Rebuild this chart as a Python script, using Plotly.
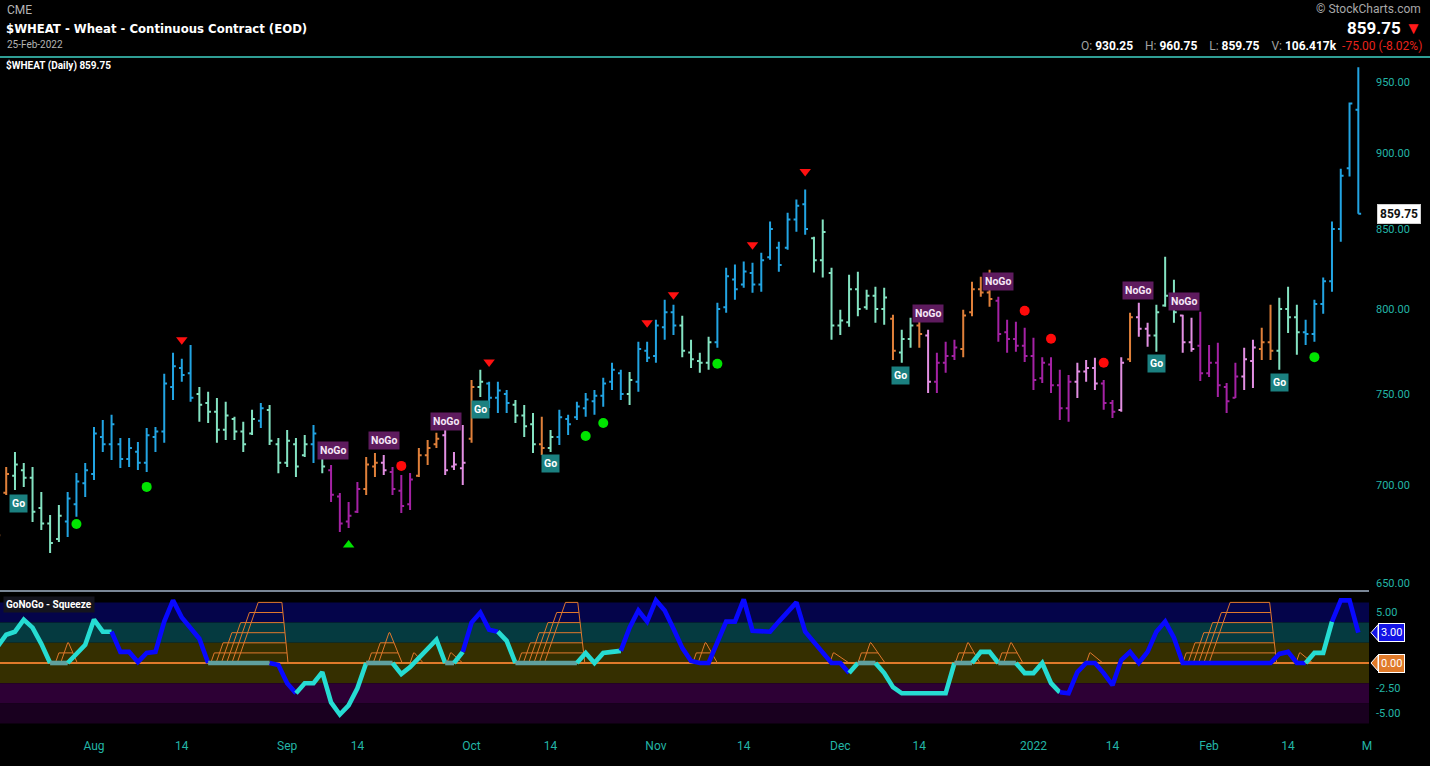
import numpy as np
import plotly.graph_objects as go

# ---------------- data ----------------
# trading-day index: 0 = Mon 2-Aug-2021 ... 144 = Fri 25-Feb-2022
bar_idx = list(range(-11, 145))

opens = [690, 696, 705, 708, 704, 688, 680, 672, 681, 690, 701,
         706, 726, 722, 722, 714, 718, 712, 726, 729, 754,
         765, 762, 750, 745, 740, 730, 736, 729, 728, 735,
         741, 722, 712, 722, 716, 722, 718, 708, 694, 681,
         686, 698, 710, 712, 707, 697, 690, 705, 716, 722,
         727, 710, 709, 725, 754, 756, 748, 750, 744, 738,
         733, 722, 720, 726, 736, 737, 742, 746, 749, 757,
         762, 750, 757, 775, 772, 789, 798, 790, 774, 769,
         768, 780, 801, 818, 815, 822, 815, 832, 838, 838,
         856, 866, 844, 830, 822, 790, 792, 812, 801, 808,
         800, 794, 774, 782, 790, 784, 757, 768, 772, 776,
         798, 812, 810, 805, 786, 782, 778, 772, 759, 767,
         755, 742, 757, 763, 765, 756, 745, 741, 770, 795,
         788, 784, 802, 808, 796, 780, 778, 762, 768, 754,
         748, 760, 769, 776, 780, 775, 800, 795, 786, 785,
         803, 817, 850, 890, 930.25]

highs = [695.9, 709.7, 717.8, 711.9, 709.7, 696.4, 684.4, 689.6, 696.4, 706.5, 711.9,
         731.6, 735.5, 738.3, 725.5, 725.5, 723.3, 731.0, 731.6, 761.6, 773.8,
         770.3, 778.5, 754.1, 751.3, 747.8, 745.6, 737.2, 734.4, 741.1, 745.0,
         743.9, 725.5, 729.9, 725.5, 727.1, 732.7, 720.5, 710.8, 695.9, 691.2,
         701.7, 715.1, 717.3, 716.2, 709.7, 705.4, 706.5, 720.0, 724.4, 728.3,
         731.6, 717.8, 732.7, 758.1, 763.9, 757.0, 757.0, 752.4, 746.7, 743.9,
         739.4, 737.2, 729.9, 741.1, 738.3, 745.6, 750.7, 752.4, 759.3, 768.0,
         763.9, 762.7, 780.3, 780.3, 793.4, 805.5, 802.5, 795.8, 781.5, 773.8,
         783.3, 803.7, 825.4, 827.3, 829.2, 828.5, 834.8, 854.7, 841.8, 860.5,
         869.1, 875.7, 845.0, 856.0, 825.4, 799.5, 821.0, 822.9, 811.7, 813.5,
         812.9, 796.4, 787.4, 794.6, 792.2, 787.4, 773.8, 780.3, 781.5, 799.5,
         816.7, 819.8, 824.1, 807.4, 793.4, 792.2, 788.6, 782.7, 771.3, 771.3,
         763.9, 761.0, 768.0, 769.7, 770.9, 758.1, 746.7, 771.3, 797.7, 803.7,
         791.6, 802.5, 832.3, 817.9, 796.4, 794.6, 798.3, 778.5, 779.7, 756.4,
         768.0, 776.8, 781.5, 788.6, 802.5, 806.8, 813.5, 802.5, 793.4, 805.5,
         819.2, 854.7, 889.7, 935.5, 960.75]

lows = [671.5, 694.8, 697.5, 699.1, 680.7, 676.6, 665.0, 670.5, 673.0, 683.4, 693.7,
        702.8, 717.8, 713.5, 709.2, 709.7, 708.1, 707.0, 717.8, 722.8, 746.7,
        757.0, 745.6, 734.4, 733.8, 722.8, 724.4, 724.4, 717.8, 727.1, 731.0,
        721.7, 706.4, 709.7, 704.4, 715.1, 711.9, 706.4, 691.2, 675.6, 677.7,
        685.4, 694.8, 704.4, 705.4, 694.8, 685.4, 687.0, 704.4, 710.8, 720.0,
        705.4, 708.1, 700.1, 722.8, 748.4, 742.2, 739.4, 739.4, 733.8, 726.0,
        717.3, 716.2, 717.8, 721.7, 727.1, 735.5, 737.2, 738.3, 742.8, 752.4,
        746.7, 743.9, 751.3, 768.5, 768.0, 781.5, 784.4, 771.3, 765.0, 762.2,
        763.9, 776.8, 797.7, 805.5, 812.9, 809.8, 810.4, 830.4, 822.9, 836.7,
        848.2, 846.3, 822.3, 819.2, 781.5, 784.4, 789.2, 795.6, 799.5, 791.6,
        790.4, 769.7, 768.0, 776.8, 776.8, 750.7, 750.7, 762.2, 769.7, 771.3,
        795.6, 807.4, 801.3, 780.3, 773.8, 774.4, 768.5, 752.4, 756.4, 750.7,
        735.5, 734.4, 747.8, 757.0, 752.4, 741.1, 736.6, 740.0, 768.5, 783.3,
        777.4, 774.4, 801.3, 791.6, 773.8, 774.4, 757.5, 759.8, 748.4, 739.4,
        747.8, 752.4, 753.5, 769.7, 769.7, 763.9, 785.6, 772.7, 778.5, 780.3,
        797.1, 810.4, 841.8, 884.4, 859.75]

closes = [674, 706, 711, 704, 686, 680, 670, 684, 693, 702, 708,
          728, 722, 733, 714, 720, 712, 727, 729, 756, 766,
          761, 748, 744, 740, 730, 738, 729, 722, 736, 742,
          724, 712, 724, 710, 722, 728, 710, 695, 680, 684,
          698, 711, 712, 708, 698, 689, 703, 716, 720, 725,
          708, 711, 712, 754, 757, 748, 752, 745, 738, 732,
          722, 720, 726, 737, 733, 743, 747, 749, 756, 764,
          750, 758, 776, 771, 790, 798, 790, 775, 770, 768,
          780, 800, 820, 812, 823, 815, 830, 850, 827, 856,
          865, 850, 830, 848, 790, 793, 812, 800, 808, 800,
          807, 775, 782, 790, 785, 757, 768, 772, 777, 796,
          812, 810, 806, 785, 782, 778, 772, 758, 768, 755,
          742, 757, 763, 765, 756, 745, 740, 768, 795, 788,
          784, 798, 808, 798, 780, 776, 762, 768, 755, 746,
          760, 770, 777, 780, 775, 800, 795, 786, 785, 803,
          817, 850, 885, 934.75, 859.75]

# GoNoGo trend state per bar: B strong Go, M weak Go, O neutral, P weak NoGo, U strong NoGo
bar_state = ("OO" "MMMMMM" "BBBBBBBBBBBBBBB" "MMMMMMM" "B" "MMMMM" "B" "M" "UUUU"
             "OO" "P" "UUU" "OOO" "PPP" "O" "M" "BBB" "MMM" "O" "M" "BBBBBBBB" "M"
             "BBBBB" "MMMM" "BBBBBBBBBBB" "MMMMMMMMM" "O" "MM" "O" "P" "UUU" "OOOO"
             "UUUUUUUUU" "PPP" "UU" "P" "O" "PP" "MMM" "PP" "UUUUU" "PP" "OO" "MMM"
             "BBBBBBB")

# GoNoGo Squeeze oscillator per bar
osc_values = [1.6, 2.8, 3.1, 4.3, 3.5, 1.9, 0, 0, 0, 0.9, 1.8,
              4.3, 3.1, 3.1, 1.1, 1.1, 0.1, 1.0, 1.1, 4.1, 6.2,
              4.5, 3.5, 2.4, 0, 0, 0, 0, 0, 0, 0,
              0, -0.2, -2.0, -3.0, -2.0, -2.0, -0.9, -3.9, -5.1, -4.2,
              -2.5, 0, 0, 0, 0, -1.1, -0.4, 0.5, 1.3, 2.3,
              0, 0, 1.1, 4.0, 5.0, 3.3, 3.1, 2.2, 0, 0,
              0, 0, 0, 0, 0, 0, 1.0, 0, 1.0, 1.1,
              1.2, 3.5, 5.2, 4.1, 6.2, 5.2, 3.4, 1.5, 0.2, 0,
              0, 2.0, 4.1, 4.1, 6.3, 3.2, 3.1, 3.1, 4.1, 5.1,
              6.0, 3.1, 2.1, 1.0, 0, 0, -1.0, 0, 0, 0,
              -1.0, -2.4, -3.0, -3.0, -3.0, -3.0, -3.0, -3.0, 0, 0,
              0, 1.1, 1.1, 0, 0, 0, -1.0, -1.0, 0, -2.0,
              -2.9, -3.0, -0.9, 0, 0, -1.0, -2.2, 0.3, 1.1, 0,
              1.1, 3.1, 4.1, 2.5, 0, 0, 0, 0, 0, 0,
              0, 0, 0, 0, 0, 0.9, 1.1, 0, 0, 1.0,
              1.0, 4.1, 6.2, 6.2, 3.0]
# oscillator segment state: C cyan, B blue, G squeeze (grey)
osc_state = ("CCCCCCC" "GG" "CCCCC" "BBBBBBBBBBB" "GGGGGGG" "BBB" "CCCCCCCC" "GGG"
             "CCCCCC" "G" "C" "BBBB" "CC" "GGGGGGG" "CCCCC"
             "BBBBBBBBBBBBBBBBBBBBBBBBBB" "C" "GG" "CCCCCCCCC" "GG" "CCC" "GG" "CCCCC"
             "BBBBBBBBBBBBBBBBBBBBBBBBBBBB" "CCC" "BBB")

# squeeze-max ladders: (start index, levels, roof end, base end)
squeeze_ladders = [(-4.4, 2, -2.9, -1.9), (13.3, 6, 21.4, 22.1), (31.2, 3, 33.7, 35.1),
                   (36.0, 1, 36.5, 37.5), (40.2, 1, 40.7, 42.0), (48.3, 6, 55.1, 55.9),
                   (68.2, 2, 69.7, 71.0), (83.8, 1, 84.3, 86.0), (87.0, 2, 88.5, 90.1),
                   (98.1, 2, 99.6, 100.9), (103.0, 2, 104.5, 105.8), (113.0, 1, 113.5, 114.9),
                   (124.0, 6, 133.9, 134.7), (136.9, 1, 137.4, 138.8)]

go_dot_idx = [-2, 6, 56, 58, 71, 135, 139]
go_dot_val = [679.7, 699.1, 726.6, 733.8, 767.4, 754.7, 771.3]
nogo_dot_idx = [35, 106, 109, 115]
nogo_dot_val = [710.3, 798.9, 782.1, 768.0]
peak_idx = [10, 45, 63, 66, 75, 81]
peak_val = [781.5, 768.5, 791.6, 808.6, 839.9, 887.7]
trough_idx = [29]
trough_val = [669.0]

label_text = ["Go", "NoGo", "NoGo", "NoGo", "Go", "Go", "Go", "NoGo", "NoGo", "NoGo", "Go", "NoGo", "Go"]
label_idx = [-8.65, 27.2, 33.0, 40.1, 44.0, 52.0, 91.9, 95.0, 103.0, 118.9, 121.0, 124.1, 135.0]
label_val = [690.6, 718.9, 723.9, 734.4, 741.1, 711.4, 760.4, 797.0, 816.7, 811.0, 767.4, 804.3, 756.4]

tick_idx = [0, 10, 22, 30, 43, 52, 64, 74, 85, 94, 107, 116, 127, 136, 145]
tick_text = ["Aug", "14", "Sep", "14", "Oct", "14", "Nov", "14", "Dec", "14", "2022", "14", "Feb", "14", "M"]
price_ticks = [650, 700, 750, 800, 850, 900, 950]
osc_ticks = [5, -2.5, -5]

last_price = 859.75
last_osc = 3.0

assert len(opens) == len(highs) == len(lows) == len(closes) == len(bar_idx) == len(bar_state)
assert len(osc_values) == len(bar_idx) == len(osc_state)

# ---------------- layout geometry ----------------
W, H = 1430, 766
ML, MR, MT, MB = 0, 61, 57, 38
PW = W - ML - MR
PH = H - MT - MB


def px_x(px):
    return (px - ML) / PW


def px_y(py):
    return (H - MB - py) / PH


BAR0, BARW = 94.0, 8.78
x_range = [(0 - BAR0) / BARW, (PW - BAR0) / BARW]

fig = go.Figure()

# ---- price bars ----
state_colors = {"B": "#22a4e2", "M": "#84e3c2", "O": "#e0803a", "P": "#e28fe2", "U": "#a422a4"}
for st, col in state_colors.items():
    sel = [k for k, s in enumerate(bar_state) if s == st]
    fig.add_trace(go.Ohlc(
        x=[bar_idx[k] for k in sel], open=[opens[k] for k in sel], high=[highs[k] for k in sel],
        low=[lows[k] for k in sel], close=[closes[k] for k in sel],
        increasing=dict(line=dict(color=col, width=2)),
        decreasing=dict(line=dict(color=col, width=2)),
        tickwidth=0.32, hoverinfo="skip", showlegend=False, xaxis="x", yaxis="y"))

# ---- signal markers ----
fig.add_trace(go.Scatter(x=go_dot_idx, y=go_dot_val, mode="markers", xaxis="x", yaxis="y",
                         marker=dict(symbol="circle", size=10, color="#00e400"), showlegend=False, hoverinfo="skip"))
fig.add_trace(go.Scatter(x=nogo_dot_idx, y=nogo_dot_val, mode="markers", xaxis="x", yaxis="y",
                         marker=dict(symbol="circle", size=10, color="#ff0a0a"), showlegend=False, hoverinfo="skip"))
fig.add_trace(go.Scatter(x=peak_idx, y=peak_val, mode="markers", xaxis="x", yaxis="y",
                         marker=dict(symbol="triangle-down", size=10, color="#ff1010"), showlegend=False, hoverinfo="skip"))
fig.add_trace(go.Scatter(x=trough_idx, y=trough_val, mode="markers", xaxis="x", yaxis="y",
                         marker=dict(symbol="triangle-up", size=10, color="#00e400"), showlegend=False, hoverinfo="skip"))

# ---- oscillator panel ----
fig.add_trace(go.Scatter(x=x_range, y=[0, 0], mode="lines", xaxis="x2", yaxis="y2",
                         line=dict(color="#e07a2a", width=2), showlegend=False, hoverinfo="skip"))

lx, ly = [], []
for s, n, roof_end, base_end in squeeze_ladders:
    for k in range(1, n + 1):
        b = s + (k - 1) * 0.6
        t = b + 0.4 * k
        edge = base_end - (base_end - roof_end) * k / n
        edge = max(edge, t)
        lx += [b, t, edge, None]
        ly += [0, k, k, None]
    lx += [roof_end, base_end, None]
    ly += [n, 0, None]
fig.add_trace(go.Scatter(x=lx, y=ly, mode="lines", xaxis="x2", yaxis="y2",
                         line=dict(color="#e0782c", width=1), showlegend=False, hoverinfo="skip"))

osc_colors = {"C": "#26dcd2", "B": "#0808ff", "G": "#5fa09e"}
start = 0
for k in range(1, len(osc_state) + 1):
    if k == len(osc_state) or osc_state[k] != osc_state[start]:
        a = max(start - 1, 0)
        fig.add_trace(go.Scatter(x=bar_idx[a:k], y=osc_values[a:k], mode="lines", xaxis="x2", yaxis="y2",
                                 line=dict(color=osc_colors[osc_state[start]], width=4.6),
                                 showlegend=False, hoverinfo="skip"))
        start = k

# ---- shapes ----
shapes = []
for y0, y1, col in [(4, 6, "#04044a"), (2, 4, "#053a40"), (-2, 2, "#352f00"),
                    (-4, -2, "#2d0035"), (-6, -4, "#19001f")]:
    shapes.append(dict(type="rect", xref="paper", x0=0, x1=1, yref="y2", y0=y0, y1=y1,
                       fillcolor=col, line=dict(width=0), layer="below"))
shapes.append(dict(type="line", xref="paper", x0=0, x1=1, yref="paper", y0=px_y(591), y1=px_y(591),
                   line=dict(color="#7a8796", width=2)))
shapes.append(dict(type="line", xref="paper", x0=0, x1=W / PW, yref="paper", y0=1, y1=1,
                   line=dict(color="#2f9e94", width=2)))
# tag arrows
shapes.append(dict(type="path", xref="paper", xsizemode="pixel", xanchor=1.0, yref="y",
                   ysizemode="pixel", yanchor=np.log10(last_price),
                   path="M 1,0 L 8,-8 L 8,8 Z", fillcolor="white", line=dict(width=0)))
shapes.append(dict(type="path", xref="paper", xsizemode="pixel", xanchor=1.0, yref="y2",
                   ysizemode="pixel", yanchor=last_osc,
                   path="M 2,0 L 9,-8 L 9,8 Z", fillcolor="#1414e6", line=dict(color="white", width=1)))
shapes.append(dict(type="path", xref="paper", xsizemode="pixel", xanchor=1.0, yref="y2",
                   ysizemode="pixel", yanchor=0,
                   path="M 2,0 L 9,-8 L 9,8 Z", fillcolor="#e07a2a", line=dict(color="white", width=1)))

# ---- annotations ----
ann = []
for t, xi, v in zip(label_text, label_idx, label_val):
    ann.append(dict(x=xi, y=np.log10(v), xref="x", yref="y", text="<b>%s</b>" % t, showarrow=False,
                    font=dict(family="Roboto, Arial", size=10.5, color="#ffffff" if t == "Go" else "#f6e6f6"),
                    bgcolor="#1b8080" if t == "Go" else "#5e1b5e", borderpad=2))

FONT = "Roboto, 'Open Sans', Arial"
ann += [
    dict(x=px_x(5), y=px_y(10), xref="paper", yref="paper", xanchor="left", yanchor="middle",
         text="CME", showarrow=False, font=dict(family=FONT, size=12, color="#b4b4b4")),
    dict(x=px_x(4), y=px_y(28), xref="paper", yref="paper", xanchor="left", yanchor="middle",
         text="<b>$WHEAT - Wheat - Continuous Contract (EOD)</b>", showarrow=False,
         font=dict(family="'Liberation Sans Narrow', 'DejaVu Sans Condensed', Roboto", size=13, color="#ffffff")),
    dict(x=px_x(5), y=px_y(45), xref="paper", yref="paper", xanchor="left", yanchor="middle",
         text="25-Feb-2022", showarrow=False, font=dict(family=FONT, size=10, color="#b4b4b4")),
    dict(x=px_x(1423), y=px_y(9), xref="paper", yref="paper", xanchor="right", yanchor="middle",
         text="© StockCharts.com", showarrow=False, font=dict(family=FONT, size=12, color="#a8a8a8")),
    dict(x=px_x(1424), y=px_y(28), xref="paper", yref="paper", xanchor="right", yanchor="middle",
         text="<b>859.75</b> <span style='color:#ff1a1a'>▼</span>", showarrow=False,
         font=dict(family=FONT, size=17, color="#ffffff")),
    dict(x=px_x(1424), y=px_y(46), xref="paper", yref="paper", xanchor="right", yanchor="middle",
         text=("<span style='color:#a0a0a0'>O:</span> <b>930.25</b>    "
               "<span style='color:#a0a0a0'>H:</span> <b>960.75</b>    "
               "<span style='color:#a0a0a0'>L:</span> <b>859.75</b>    "
               "<span style='color:#a0a0a0'>V:</span> <b>106.417k</b>  "
               "<span style='color:#e8231c'>-75.00 (-8.02%)</span>"),
         showarrow=False, font=dict(family=FONT, size=12, color="#ffffff")),
    dict(x=px_x(4), y=px_y(66), xref="paper", yref="paper", xanchor="left", yanchor="middle",
         text="<b>$WHEAT (Daily) 859.75</b>", showarrow=False,
         font=dict(family=FONT, size=10, color="#ffffff")),
    dict(x=px_x(3), y=px_y(604), xref="paper", yref="paper", xanchor="left", yanchor="middle",
         text="<b>GoNoGo - Squeeze</b>", showarrow=False, bgcolor="#14141e", borderpad=2,
         font=dict(family=FONT, size=10, color="#ffffff")),
    dict(x=px_x(1377), y=np.log10(last_price), xref="paper", yref="y", xanchor="left", yanchor="middle",
         text="<b>859.75</b>", showarrow=False, bgcolor="#ffffff", borderpad=2, bordercolor="#d0d0d0",
         font=dict(family=FONT, size=12, color="#111111")),
    dict(x=px_x(1378), y=last_osc, xref="paper", yref="y2", xanchor="left", yanchor="middle",
         text="3.00", showarrow=False, bgcolor="#1414e6", borderpad=2, bordercolor="#ffffff", borderwidth=1,
         font=dict(family=FONT, size=11, color="#ffffff")),
    dict(x=px_x(1378), y=0, xref="paper", yref="y2", xanchor="left", yanchor="middle",
         text="0.00", showarrow=False, bgcolor="#e07a2a", borderpad=2, bordercolor="#ffffff", borderwidth=1,
         font=dict(family=FONT, size=11, color="#ffffff")),
]

tickcol = "#23b5a6"
p_bottom = 650 * np.exp(-7 / 1320)
p_top = 650 * np.exp((583 - 57) / 1320)
osc_top = (663 - 592) / 10.1
osc_bot = -(728 - 663) / 10.1

fig.update_layout(
    width=W, height=H, margin=dict(l=ML, r=MR, t=MT, b=MB),
    paper_bgcolor="#000000", plot_bgcolor="#000000",
    showlegend=False, hovermode=False,
    xaxis=dict(domain=[0, 1], anchor="y", range=x_range, showgrid=False, zeroline=False,
               showticklabels=False, rangeslider=dict(visible=False), fixedrange=True),
    xaxis2=dict(domain=[0, 1], anchor="y2", range=x_range, showgrid=False, zeroline=False,
                tickmode="array", tickvals=tick_idx, ticktext=tick_text, ticks="",
                tickfont=dict(family=FONT, size=12, color=tickcol), ticklabelstandoff=9,
                rangeslider=dict(visible=False), matches="x"),
    yaxis=dict(domain=[px_y(590), 1], anchor="x", type="log", side="right",
               range=[np.log10(p_bottom), np.log10(p_top)], showgrid=False, zeroline=False,
               tickmode="array", tickvals=price_ticks, ticktext=["%.2f" % v for v in price_ticks],
               ticks="", tickfont=dict(family=FONT, size=11, color=tickcol), ticklabelstandoff=6),
    yaxis2=dict(domain=[0, px_y(592)], anchor="x2", side="right", range=[osc_bot, osc_top],
                showgrid=False, zeroline=False, tickmode="array", tickvals=osc_ticks,
                ticktext=["%.2f" % v for v in osc_ticks], ticks="",
                tickfont=dict(family=FONT, size=11, color=tickcol), ticklabelstandoff=6),
    shapes=shapes, annotations=ann,
)

fig.write_html("out.html", config={"displayModeBar": False},
               post_script="document.body.style.margin='0';document.body.style.background='#000';")
